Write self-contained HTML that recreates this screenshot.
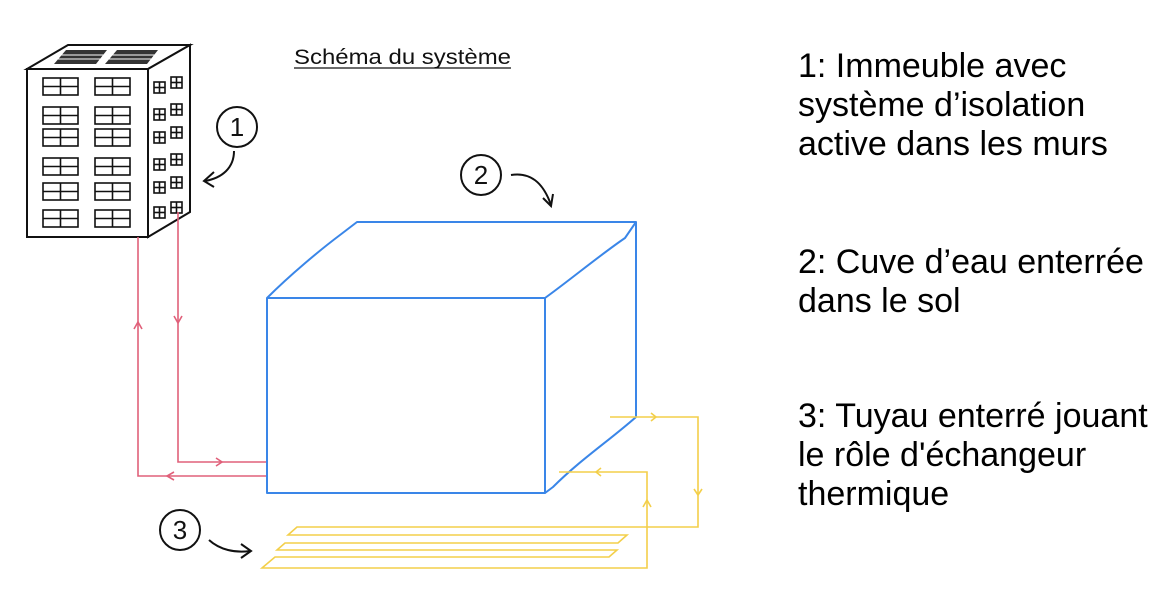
<!DOCTYPE html>
<html><head><meta charset="utf-8"><style>
html,body{margin:0;padding:0;background:#fff;}
svg{display:block;}
.t{font-family:"Liberation Sans",Arial,sans-serif;font-size:34px;fill:#000;}
</style></head><body>
<svg width="1172" height="606" viewBox="0 0 1172 606" xmlns="http://www.w3.org/2000/svg">
<!-- building -->
<g stroke="#111" fill="none" stroke-width="2">
<polygon points="27,69 148,69 148,237 27,237" fill="#fff"/>
<polygon points="27,69 68,45 190,45 148,69" fill="#fff"/>
<polygon points="148,69 190,45 190,212 148,237" fill="#fff"/>
</g>
<g fill="#333">
<polygon points="54,64 66,50 107,50 96,64"/>
<polygon points="105,64 117,50 158,50 147,64"/>
</g>
<g stroke="#fff" stroke-width="1">
<line x1="60" y1="55" x2="104" y2="55"/><line x1="58" y1="59" x2="101" y2="59"/>
<line x1="111" y1="55" x2="155" y2="55"/><line x1="109" y1="59" x2="152" y2="59"/>
</g>
<g stroke="#111" fill="none" stroke-width="1.6">
<g id="w"><rect x="43" y="78" width="35" height="17"/><line x1="60.5" y1="78" x2="60.5" y2="95"/><line x1="43" y1="86.5" x2="78" y2="86.5"/></g>
<use href="#w" x="52"/>
<use href="#w" y="29"/><use href="#w" x="52" y="29"/>
<use href="#w" y="51"/><use href="#w" x="52" y="51"/>
<use href="#w" y="80"/><use href="#w" x="52" y="80"/>
<use href="#w" y="105"/><use href="#w" x="52" y="105"/>
<use href="#w" y="132"/><use href="#w" x="52" y="132"/>
<g id="s"><rect x="154" y="82" width="11" height="11"/><line x1="159.5" y1="82" x2="159.5" y2="93"/><line x1="154" y1="87.5" x2="165" y2="87.5"/></g>
<use href="#s" x="17" y="-5"/>
<use href="#s" y="27"/><use href="#s" x="17" y="22"/>
<use href="#s" y="50"/><use href="#s" x="17" y="45"/>
<use href="#s" y="77"/><use href="#s" x="17" y="72"/>
<use href="#s" y="100"/><use href="#s" x="17" y="95"/>
<use href="#s" y="125"/><use href="#s" x="17" y="120"/>
</g>
<!-- red pipes -->
<g stroke="#e0607a" stroke-width="1.6" fill="none">
<polyline points="138,237 138,476 267,476"/>
<polyline points="178,212 178,462 267,462"/>
<polyline points="134,329 138,322 142,329"/>
<polyline points="174,316 178,323 182,316"/>
<polyline points="216,458 222,462 216,466"/>
<polyline points="174,472 167,476 174,480"/>
</g>
<!-- blue cube -->
<g stroke="#3a86e8" stroke-width="2" fill="none" stroke-linejoin="round">
<rect x="267" y="298" width="278" height="195"/>
<path d="M267,298 C290,275 320,250 340,235 L357,222 L636,222 L636,417"/>
<path d="M545,298 C570,280 600,255 625,238 L636,222"/>
<path d="M545,493 L553,487 C580,460 610,440 636,417"/>
</g>
<!-- yellow pipes -->
<g stroke="#f3cf4a" stroke-width="1.6" fill="none">
<polyline points="610,417 698,417 698,527 297,527 288,535 627,535 618,543 285,543 277,550 617,550 609,557 275,557 262,568 647,568 647,472 559,472"/>
<polyline points="651,413 656,417 651,421"/>
<polyline points="694,489 698,495 702,489"/>
<polyline points="643,507 647,500 651,507"/>
<polyline points="601,468 596,472 601,476"/>
</g>
<!-- labels circles -->
<g stroke="#111" stroke-width="2" fill="none">
<circle cx="237" cy="127" r="20"/>
<circle cx="481" cy="175" r="20"/>
<circle cx="180" cy="530" r="20"/>
<path d="M234,151 C234,168 222,178 205,181"/>
<polyline points="214,172 204,181 214,187"/>
<path d="M511,175 C530,172 543,182 551,205"/>
<polyline points="543,198 551,206 553,194"/>
<path d="M209,540 C220,550 235,553 250,551"/>
<polyline points="241,544 251,551 241,558"/>
</g>
<g font-family="Liberation Sans,Arial,sans-serif" font-size="26" text-anchor="middle" fill="#111">
<text x="237" y="136">1</text><text x="481" y="184">2</text><text x="180" y="539">3</text>
</g>
<text x="294" y="64" font-family="Liberation Sans,Arial,sans-serif" font-size="21" textLength="217" lengthAdjust="spacingAndGlyphs" fill="#111">Schéma du système</text>
<line x1="294" y1="68" x2="511" y2="68" stroke="#111" stroke-width="1.2"/>
<g class="t">
<text x="798" y="77">1: Immeuble avec</text>
<text x="798" y="116">système d’isolation</text>
<text x="798" y="155">active dans les murs</text>
<text x="798" y="273">2: Cuve d’eau enterrée</text>
<text x="798" y="312">dans le sol</text>
<text x="798" y="427">3: Tuyau enterré jouant</text>
<text x="798" y="466">le rôle d'échangeur</text>
<text x="798" y="505">thermique</text>
</g>
</svg>
</body></html>
